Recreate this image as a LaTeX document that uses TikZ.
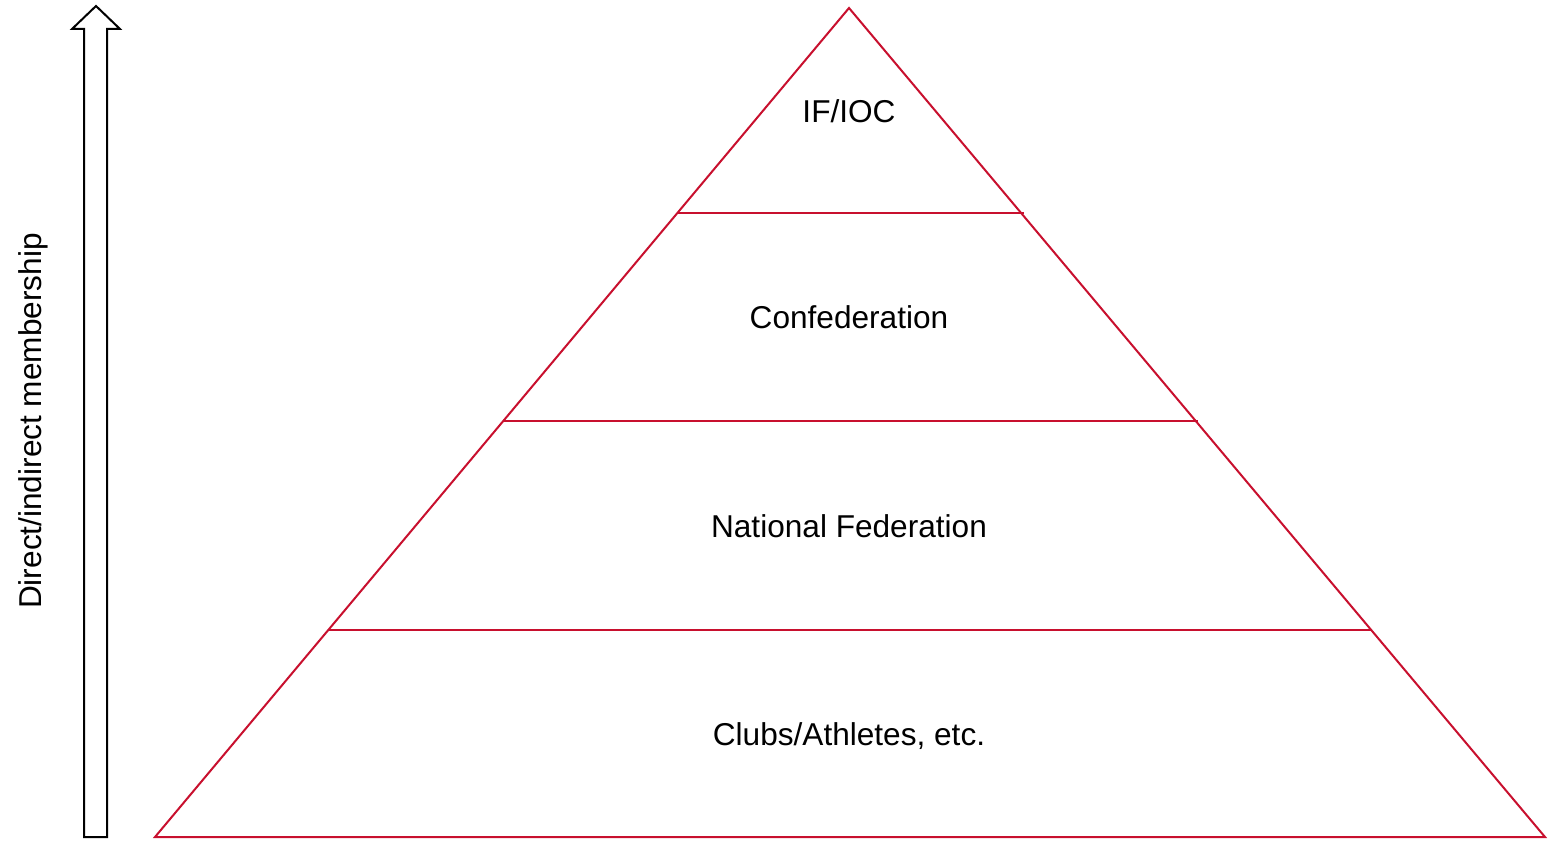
\documentclass[tikz,border=0pt]{standalone}
\usepackage{fontspec}
\setmainfont{Liberation Sans}
\definecolor{pyr}{RGB}{200,16,46}
\begin{document}
\begin{tikzpicture}[x=1pt,y=-1pt,
  pline/.style={draw=pyr,line width=2pt,line join=miter},
  lbl/.style={anchor=base,inner sep=0pt,font=\fontsize{31.6}{38}\selectfont}]
\useasboundingbox (0,0) rectangle (1550,843);
% pyramid
\coordinate (apex) at (849,8);
\coordinate (bl) at (155,837);
\coordinate (br) at (1545,837);
\draw[pline] (apex) -- (bl) -- (br) -- cycle;
\coordinate (a1) at (677.4,213); \coordinate (b1) at (1024,213);
\coordinate (a2) at (503,421); \coordinate (b2) at (1198,421);
\coordinate (a3) at (328,630); \coordinate (b3) at (1372,630);
\draw[pline] (a1) -- (b1);
\draw[pline] (a2) -- (b2);
\draw[pline] (a3) -- (b3);
% labels
\node[lbl] (t1) at (849,122) {IF/IOC};
\node[lbl] (t2) at (849,328.5) {Confederation};
\node[lbl] (t3) at (849,537) {National Federation};
\node[lbl] (t4) at (849,745) {Clubs/Athletes, etc.};
% arrow
\draw[black,line width=2pt,line join=miter]
  (84,837) -- (84,29) -- (72,29) -- (96,6) -- (120,29) -- (107,29) -- (107,837) -- cycle;
\node[lbl,anchor=center,rotate=90] (side) at (33,421) {Direct/indirect membership};
\end{tikzpicture}
\end{document}
